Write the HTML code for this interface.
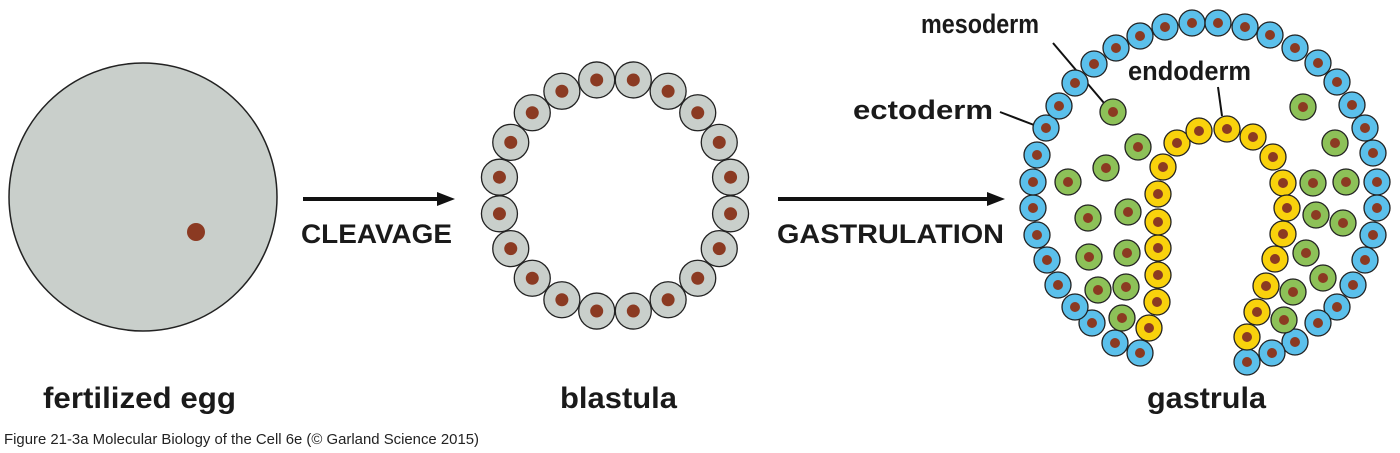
<!DOCTYPE html>
<html><head><meta charset="utf-8"><style>body{margin:0;background:#fff}svg{display:block}</style></head><body>
<svg width="1400" height="453" viewBox="0 0 1400 453" xmlns="http://www.w3.org/2000/svg" font-family="Liberation Sans, sans-serif">
<defs>
<marker id="ah" markerWidth="10" markerHeight="8" refX="9" refY="4" orient="auto" markerUnits="userSpaceOnUse"><path d="M0,0 L18,4 L0,8 Z" fill="#111"/></marker>
</defs>
<circle cx="143" cy="197" r="134" fill="#c9cfcb" stroke="#222" stroke-width="1.5"/>
<circle cx="196" cy="232" r="9" fill="#8b3a22"/>
<line x1="303" y1="199" x2="440" y2="199" stroke="#111" stroke-width="4"/>
<path d="M437,192 L455,199 L437,206 Z" fill="#111"/>
<line x1="778" y1="199" x2="990" y2="199" stroke="#111" stroke-width="4"/>
<path d="M987,192 L1005,199 L987,206 Z" fill="#111"/>
<g font-weight="bold" fill="#1a1a1a">
<text x="301" y="243" font-size="27" textLength="151" lengthAdjust="spacingAndGlyphs">CLEAVAGE</text>
<text x="777" y="243" font-size="27" textLength="227" lengthAdjust="spacingAndGlyphs">GASTRULATION</text>
<text x="43" y="408" font-size="30" textLength="193" lengthAdjust="spacingAndGlyphs">fertilized egg</text>
<text x="560" y="408" font-size="30" textLength="117" lengthAdjust="spacingAndGlyphs">blastula</text>
<text x="1147" y="408" font-size="30" textLength="119" lengthAdjust="spacingAndGlyphs">gastrula</text>
<text x="921" y="33" font-size="27" textLength="118" lengthAdjust="spacingAndGlyphs">mesoderm</text>
<text x="1128" y="80" font-size="27" textLength="123" lengthAdjust="spacingAndGlyphs">endoderm</text>
<text x="853" y="119" font-size="27" textLength="140" lengthAdjust="spacingAndGlyphs">ectoderm</text>
</g>
<text x="4" y="444" font-size="15" fill="#222" textLength="475" lengthAdjust="spacingAndGlyphs">Figure 21-3a  Molecular Biology of the Cell 6e (© Garland Science 2015)</text>
<g stroke="#111" stroke-width="2">
<line x1="1053" y1="43" x2="1104" y2="103"/>
<line x1="1218" y1="87" x2="1222" y2="116"/>
<line x1="1000" y1="112" x2="1034" y2="125"/>
</g>
<g id="cells" stroke="#222" stroke-width="1.3"></g>
</svg>
<script>
var g=document.getElementById('cells');
function cell(x,y,r,fill,nr){
 g.insertAdjacentHTML('beforeend','<circle cx="'+x+'" cy="'+y+'" r="'+r+'" fill="'+fill+'"/><circle cx="'+x+'" cy="'+y+'" r="'+nr+'" fill="#8b3a22" stroke="none"/>');
}
for(var i=0;i<20;i++){var a=(9+18*i)*Math.PI/180;cell(615+117*Math.sin(a),195.5-117*Math.cos(a),18,'#c9cfcb',6.5);}
var blue=[[1140,353],[1115,343],[1092,323],[1075,307],[1058,285],[1047,260],[1037,235],[1033,208],[1033,182],[1037,155],[1046,128],[1059,106],[1075,83],[1094,64],[1116,48],[1140,36],[1165,27],[1192,23],[1218,23],[1245,27],[1270,35],[1295,48],[1318,63],[1337,82],[1352,105],[1365,128],[1373,153],[1377,182],[1377,208],[1373,235],[1365,260],[1353,285],[1337,307],[1318,323],[1295,342],[1272,353],[1247,362]];
var yel=[[1149,328],[1157,302],[1158,275],[1158,248],[1158,222],[1158,194],[1163,167],[1177,143],[1199,131],[1227,129],[1253,137],[1273,157],[1283,183],[1287,208],[1283,234],[1275,259],[1266,286],[1257,312],[1247,337]];
var grn=[[1113,112],[1138,147],[1106,168],[1068,182],[1088,218],[1128,212],[1089,257],[1127,253],[1098,290],[1126,287],[1122,318],[1303,107],[1335,143],[1313,183],[1346,182],[1316,215],[1343,223],[1306,253],[1323,278],[1293,292],[1284,320]];
blue.forEach(function(p){cell(p[0],p[1],13,'#5bc0eb',5);});
yel.forEach(function(p){cell(p[0],p[1],13,'#f9d20c',5);});
grn.forEach(function(p){cell(p[0],p[1],13,'#8dc158',5);});
</script>
</body></html>
